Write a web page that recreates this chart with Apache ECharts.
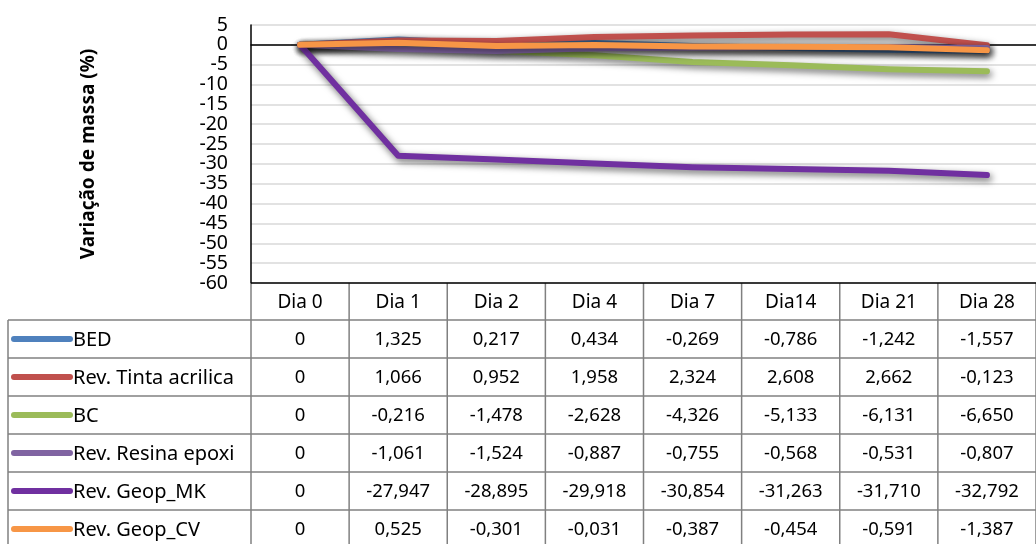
<!DOCTYPE html>
<html>
<head>
<meta charset="utf-8">
<script src="https://cdn.jsdelivr.net/npm/echarts@6/dist/echarts.min.js"></script>
<style>
  html, body { margin: 0; padding: 0; background: #fff; }
  #chart { width: 1036px; height: 544px; }
</style>
</head>
<body>
<div id="chart"></div>
<script>
// data (the values are also the ones in the table)
const categories = ['Dia 0', 'Dia 1', 'Dia 2', 'Dia 4', 'Dia 7', 'Dia14', 'Dia 21', 'Dia 28'];
const seriesNames = ['BED', 'Rev. Tinta acrilica', 'BC', 'Rev. Resina epoxi', 'Rev. Geop_MK', 'Rev. Geop_CV'];
const bed = [0, 1.325, 0.217, 0.434, -0.269, -0.786, -1.242, -1.557];
const tintaAcrilica = [0, 1.066, 0.952, 1.958, 2.324, 2.608, 2.662, -0.123];
const bc = [0, -0.216, -1.478, -2.628, -4.326, -5.133, -6.131, -6.650];
const resinaEpoxi = [0, -1.061, -1.524, -0.887, -0.755, -0.568, -0.531, -0.807];
const geopMK = [0, -27.947, -28.895, -29.918, -30.854, -31.263, -31.710, -32.792];
const geopCV = [0, 0.525, -0.301, -0.031, -0.387, -0.454, -0.591, -1.387];
const yMin = -60, yMax = 5, yStep = 5;

const seriesData = [bed, tintaAcrilica, bc, resinaEpoxi, geopMK, geopCV];
const colors = ['#4F81BD', '#C0504D', '#9BBB59', '#8064A2', '#7030A0', '#F79646'];
const font = '"Noto Sans", sans-serif';

function fmt(v) {
    return v === 0 ? '0' : v.toFixed(3).replace('.', ',');
}

const chart = echarts.init(document.getElementById('chart'));

chart.setOption({
    animation: false,
    grid: { left: 251, top: 25, width: 795, height: 258 },
    xAxis: {
        type: 'category',
        data: categories,
        boundaryGap: true,
        axisLine: { onZero: true, lineStyle: { color: '#000', width: 1.5 } },
        axisTick: { show: false },
        axisLabel: { show: false },
        splitLine: { show: false }
    },
    yAxis: {
        type: 'value',
        min: yMin,
        max: yMax,
        interval: yStep,
        name: 'Variação de massa (%)',
        nameLocation: 'middle',
        nameRotate: 90,
        nameGap: 153,
        nameTextStyle: { fontFamily: font, fontWeight: 'bold', fontSize: 19, color: '#000' },
        axisLine: { show: true, lineStyle: { color: '#000', width: 1.5 } },
        axisTick: { show: false },
        axisLabel: { fontFamily: font, fontSize: 19.5, color: '#000', margin: 23 },
        splitLine: { lineStyle: { color: '#d9d9d9', width: 1.5 } }
    },
    series: seriesNames.map((name, i) => ({
        name: name,
        type: 'line',
        data: seriesData[i],
        symbol: 'none',
        lineStyle: {
            color: colors[i],
            width: 6,
            cap: 'round',
            join: 'round',
            shadowColor: 'rgba(0,0,0,0.6)',
            shadowBlur: 7,
            shadowOffsetX: 2,
            shadowOffsetY: 3
        },
        itemStyle: { color: colors[i] }
    }))
});

// data table under the plot, placed from the axis scales
function buildTable() {
    const xs = categories.map(c => chart.convertToPixel({ xAxisIndex: 0 }, c));
    const band = xs[1] - xs[0];
    const top = chart.convertToPixel({ yAxisIndex: 0 }, yMin);
    const headerH = 37, rowH = 38, tableLeft = 8, keyLeft = 14, keyRight = 70;
    const left = xs[0] - band / 2;
    const right = xs[xs.length - 1] + band / 2;
    const bodyTop = top + headerH;
    const bottom = bodyTop + rowH * seriesNames.length;
    const border = { stroke: '#808080', lineWidth: 1.5 };
    const els = [];

    els.push({ type: 'line', shape: { x1: left, y1: top, x2: right, y2: top }, style: { stroke: '#000', lineWidth: 1.5 }, z: 10 });
    // vertical borders
    for (let i = 0; i <= categories.length; i++) {
        const x = left + i * band;
        els.push({ type: 'line', shape: { x1: x, y1: top, x2: x, y2: bottom }, style: border, z: 9 });
    }
    els.push({ type: 'line', shape: { x1: tableLeft, y1: bodyTop, x2: tableLeft, y2: bottom }, style: border, z: 9 });
    // horizontal borders
    for (let r = 0; r <= seriesNames.length; r++) {
        const y = bodyTop + r * rowH;
        els.push({ type: 'line', shape: { x1: tableLeft, y1: y, x2: right, y2: y }, style: border, z: 9 });
    }
    // header
    categories.forEach((c, i) => {
        els.push({
            type: 'text', x: xs[i], y: top + headerH / 2 + 1, z: 11,
            style: { text: c, fontFamily: font, fontSize: 19, fill: '#000', align: 'center', verticalAlign: 'middle' }
        });
    });
    // rows
    seriesNames.forEach((name, r) => {
        const cy = bodyTop + r * rowH + rowH / 2;
        els.push({
            type: 'line', z: 11,
            shape: { x1: keyLeft, y1: cy, x2: keyRight, y2: cy },
            style: { stroke: colors[r], lineWidth: 6, lineCap: 'round' }
        });
        els.push({
            type: 'text', x: keyRight + 3, y: cy + 1, z: 11,
            style: { text: name, fontFamily: font, fontSize: 20, fill: '#000', align: 'left', verticalAlign: 'middle' }
        });
        seriesData[r].forEach((v, i) => {
            els.push({
                type: 'text', x: xs[i], y: cy + 1, z: 11,
                style: { text: fmt(v), fontFamily: font, fontSize: 18.5, fill: '#000', align: 'center', verticalAlign: 'middle' }
            });
        });
    });
    chart.setOption({ graphic: { elements: els } });
}

buildTable();
</script>
</body>
</html>
